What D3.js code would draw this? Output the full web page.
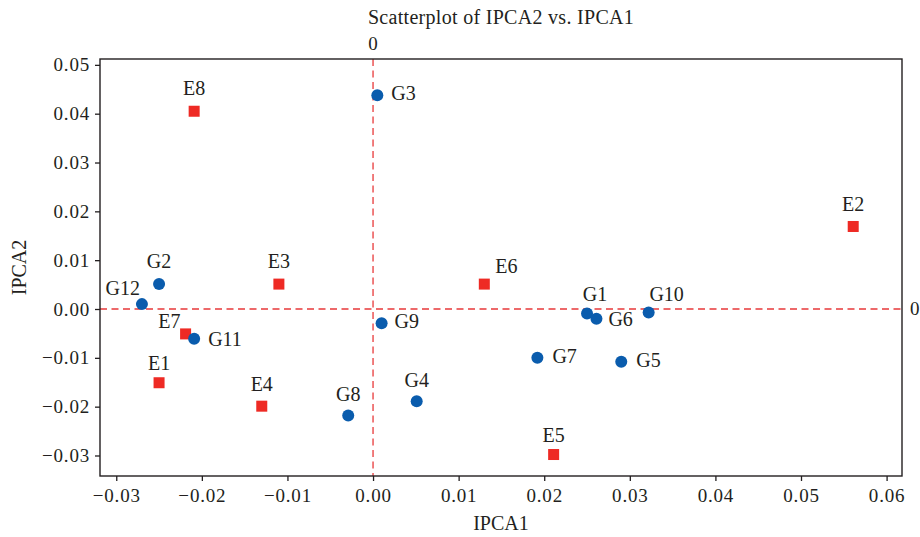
<!DOCTYPE html>
<html>
<head>
<meta charset="utf-8">
<script src="https://cdn.jsdelivr.net/npm/d3@7"></script>
<style>
  html, body { margin: 0; padding: 0; background: #fff; }
  svg text { font-family: "Liberation Serif", "Times New Roman", serif; fill: #231f20; }
</style>
</head>
<body>
<svg id="chart" width="920" height="537"></svg>
<script>
// ---- data ----
const genotypes = ["G1","G2","G3","G4","G5","G6","G7","G8","G9","G10","G11","G12"];
const genotypeIPCA1 = [0.0250, -0.0250, 0.0005, 0.0051, 0.0290, 0.0261, 0.0192, -0.0029, 0.0010, 0.0322, -0.0209, -0.0270];
const genotypeIPCA2 = [-0.0009, 0.0051, 0.0438, -0.0189, -0.0108, -0.0020, -0.0100, -0.0218, -0.0029, -0.0007, -0.0061, 0.0010];

const environments = ["E1","E2","E3","E4","E5","E6","E7","E8"];
const envIPCA1 = [-0.0250, 0.0561, -0.0110, -0.0130, 0.0211, 0.0130, -0.0219, -0.0209];
const envIPCA2 = [-0.0151, 0.0169, 0.0051, -0.0199, -0.0298, 0.0051, -0.0051, 0.0405];

const xTicks = [-0.03, -0.02, -0.01, 0.00, 0.01, 0.02, 0.03, 0.04, 0.05, 0.06];
const yTicks = [-0.03, -0.02, -0.01, 0.00, 0.01, 0.02, 0.03, 0.04, 0.05];

const titleText = "Scatterplot of IPCA2 vs. IPCA1";
const xLabel = "IPCA1";
const yLabel = "IPCA2";

// label placement (anchor, dx, dy relative to the marker)
const labelPlacement = {
  G1: ["middle", 8, -12], G2: ["middle", 0, -16], G3: ["start", 14, 5], G4: ["middle", 0, -14],
  G5: ["start", 15, 5], G6: ["start", 12, 7], G7: ["start", 15, 5], G8: ["middle", 0, -14],
  G9: ["start", 13, 5], G10: ["middle", 18, -11], G11: ["start", 14, 7], G12: ["end", -2, -9],
  E1: ["middle", 0, -13], E2: ["middle", 0, -15], E3: ["middle", 0, -16], E4: ["middle", 0, -15],
  E5: ["middle", 0, -13], E6: ["start", 11, -11], E7: ["end", -5, -6], E8: ["middle", 0, -16]
};

// ---- layout ----
const svg = d3.select("#chart");
const mLeft = 100, mRight = 902, mTop = 59, mBottom = 476;

const x = d3.scaleLinear().domain([-0.0319, 0.0618]).range([mLeft, mRight]);
const y = d3.scaleLinear().domain([-0.0342, 0.0512]).range([mBottom, mTop]);

const fmt = d3.format(".2f");
const minusFmt = v => (v < 0 ? "\u2212" + fmt(-v) : fmt(v));

// reference lines
svg.append("line")
  .attr("x1", x(0)).attr("x2", x(0)).attr("y1", mTop).attr("y2", mBottom)
  .attr("stroke", "#e8393a").attr("stroke-width", 1.3).attr("stroke-dasharray", "7,4.5");
svg.append("line")
  .attr("x1", mLeft).attr("x2", mRight).attr("y1", y(0)).attr("y2", y(0))
  .attr("stroke", "#e8393a").attr("stroke-width", 1.3).attr("stroke-dasharray", "7,4.5");

// axes
const xAxis = svg.append("g").attr("transform", `translate(0,${mBottom})`)
  .call(d3.axisBottom(x).tickValues(xTicks).tickFormat(minusFmt).tickSize(5).tickSizeOuter(0).tickPadding(8));
const yAxis = svg.append("g").attr("transform", `translate(${mLeft},0)`)
  .call(d3.axisLeft(y).tickValues(yTicks).tickFormat(minusFmt).tickSize(5).tickSizeOuter(0).tickPadding(5));

[xAxis, yAxis].forEach(g => {
  g.select(".domain").remove();
  g.selectAll(".tick line").attr("stroke", "#231f20").attr("stroke-width", 1.3);
  g.selectAll(".tick text")
    .style("font-family", '"Liberation Serif", serif')
    .style("font-size", "19px").style("letter-spacing", "0.8px")
    .attr("fill", "#231f20");
});

// frame
svg.append("rect")
  .attr("x", mLeft).attr("y", mTop).attr("width", mRight - mLeft).attr("height", mBottom - mTop)
  .attr("fill", "none").attr("stroke", "#231f20").attr("stroke-width", 1.4);

// reference-line labels
svg.append("text").attr("x", x(0)).attr("y", 50).attr("text-anchor", "middle")
  .style("font-size", "19px").text("0");
svg.append("text").attr("x", mRight + 8).attr("y", y(0) + 6).attr("text-anchor", "start")
  .style("font-size", "19px").text("0");

// title and axis labels
svg.append("text").attr("x", (mLeft + mRight) / 2).attr("y", 24).attr("text-anchor", "middle")
  .style("font-size", "20px").style("letter-spacing", "0.3px").text(titleText);
svg.append("text").attr("x", (mLeft + mRight) / 2).attr("y", 530).attr("text-anchor", "middle")
  .style("font-size", "20px").text(xLabel);
svg.append("text").attr("transform", `translate(26,${(mTop + mBottom) / 2}) rotate(-90)`)
  .attr("text-anchor", "middle").style("font-size", "20px").text(yLabel);

// data
const gData = genotypes.map((n, i) => ({ name: n, x: genotypeIPCA1[i], y: genotypeIPCA2[i] }));
const eData = environments.map((n, i) => ({ name: n, x: envIPCA1[i], y: envIPCA2[i] }));

const sq = 11;
svg.append("g").selectAll("rect").data(eData).join("rect")
  .attr("x", d => x(d.x) - sq / 2).attr("y", d => y(d.y) - sq / 2)
  .attr("width", sq).attr("height", sq).attr("fill", "#ee2a24");

svg.append("g").selectAll("circle").data(gData).join("circle")
  .attr("cx", d => x(d.x)).attr("cy", d => y(d.y)).attr("r", 6)
  .attr("fill", "#0a5cad");

svg.append("g").selectAll("text").data(gData.concat(eData)).join("text")
  .attr("x", d => x(d.x) + labelPlacement[d.name][1])
  .attr("y", d => y(d.y) + labelPlacement[d.name][2])
  .attr("text-anchor", d => labelPlacement[d.name][0])
  .style("font-size", "20px")
  .text(d => d.name);
</script>
</body>
</html>
